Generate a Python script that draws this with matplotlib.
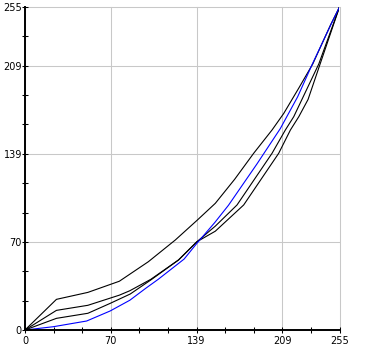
import matplotlib
matplotlib.use("Agg")
import matplotlib.pyplot as plt
import numpy as np

# curves (input level -> output level)
top_x = [0, 25.5, 51, 76.5, 100, 121.8, 139.4, 154.3, 170, 185.4, 200.3, 209.8, 222, 233.3, 247.7, 255]
top_y = [0, 24.2, 29.7, 38.5, 53.9, 71, 86.5, 100, 119, 139.5, 157.9, 171, 191, 210, 240.8, 255]

mid_x = [0, 25.5, 51, 76.5, 85, 102, 124.5, 139.4, 154.3, 171.9, 200.3, 211.1, 217.9, 238.2, 255]
mid_y = [0, 15.5, 19.5, 27.5, 31, 40, 55.3, 69.7, 82, 98.7, 139.5, 157.9, 168.4, 210, 255]

low_x = [0, 25.5, 51, 69, 85.3, 102, 124.5, 139.4, 154.3, 177.3, 205.7, 215.2, 222, 229.5, 255]
low_y = [0, 9.2, 13.2, 21, 28.4, 39.5, 55.3, 69.7, 78, 98.7, 139.5, 157.9, 168.4, 182, 255]

blue_x = [0, 23, 50, 69, 85, 98, 108, 129, 139, 154, 165, 188, 207, 221, 233, 248, 255]
blue_y = [0, 2.6, 7.1, 15, 23.5, 33, 40, 56, 68, 85, 98.5, 131, 159, 184, 210, 241, 255]

tick_step = 255 / 11
major_idx = [0, 3, 6, 9, 11]
tick_labels = ["0", "70", "139", "209", "255"]

plt.rcParams['font.family'] = ['DejaVu Sans']
fig = plt.figure(figsize=(3.65, 3.49), dpi=100)
ax = fig.add_axes([25 / 365, 1 - 330 / 349, 314.5 / 365, 323 / 349])

major = [k * tick_step for k in major_idx]
minor = [k * tick_step for k in range(12) if k not in major_idx]

ax.set_xlim(0, 255)
ax.set_ylim(0, 255)
ax.set_xticks(major)
ax.set_xticklabels(tick_labels)
ax.set_yticks(major)
ax.set_yticklabels(tick_labels)
ax.set_xticks(minor, minor=True)
ax.set_yticks(minor, minor=True)

# grid only at the labelled ticks
ax.grid(True, which="major", color="#c8c8c8", linewidth=0.75)
for gl in ax.get_xgridlines() + ax.get_ygridlines():
    gl.set_clip_on(False)
ax.set_axisbelow(True)

ax.plot(top_x, top_y, color="black", linewidth=0.8)
ax.plot(mid_x, mid_y, color="black", linewidth=0.8)
ax.plot(low_x, low_y, color="black", linewidth=0.8)
ax.plot(blue_x, blue_y, color="#0000ff", linewidth=0.8)

ax.spines['top'].set_visible(False)
ax.spines['right'].set_visible(False)
ax.spines['left'].set_linewidth(1.4)
ax.spines['bottom'].set_linewidth(1.4)

ax.tick_params(which="both", direction="inout", length=4.5, width=0.75, labelsize=7, color="black")
ax.tick_params(axis="y", pad=0)
ax.tick_params(axis="x", pad=2)

fig.savefig("out.png", dpi=100)
